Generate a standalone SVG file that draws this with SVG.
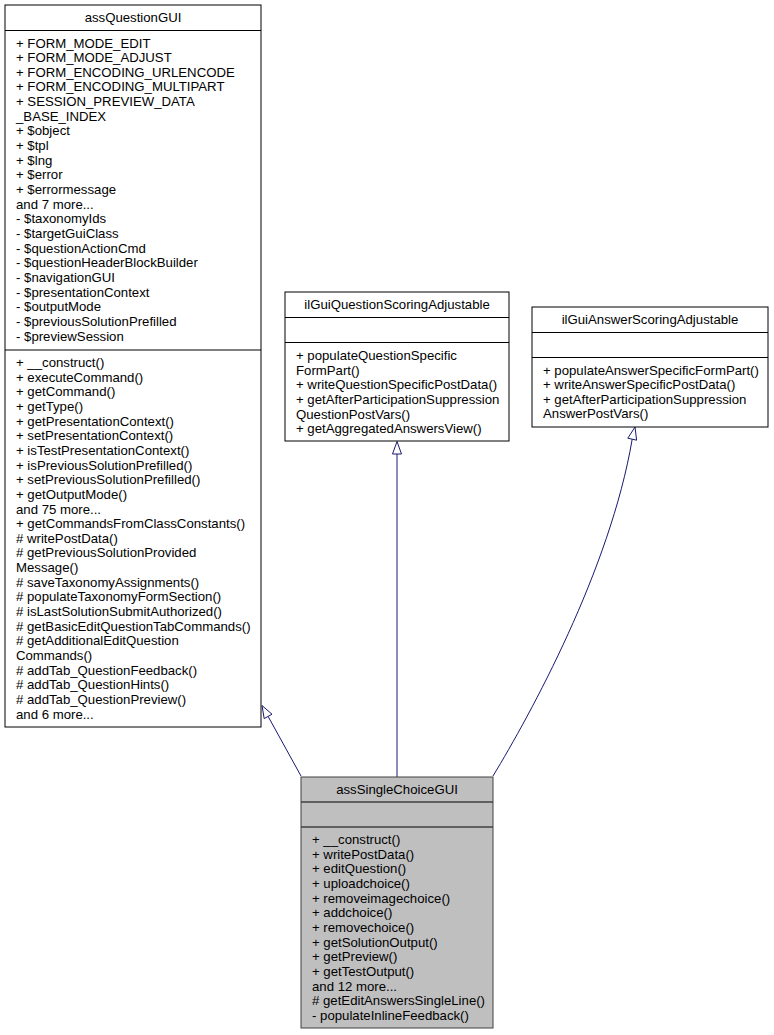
<svg xmlns="http://www.w3.org/2000/svg" width="774" height="1035" viewBox="0 0 774 1035">
<style>
text{font-family:"Liberation Sans",Arial,Helvetica,sans-serif;font-size:13.2px;fill:#000}
.t{text-anchor:middle}
.box{fill:#fff;stroke:#000;stroke-width:1}
.main{fill:#bfbfbf;stroke:#404040;stroke-width:1}
.sep{stroke:#000;stroke-width:1}
.msep{stroke:#404040;stroke-width:1.5}
.edge{fill:none;stroke:#191970;stroke-width:1}
.ah{fill:#fff;stroke:#191970;stroke-width:1}
</style>
<rect width="774" height="1035" fill="#fff"/>
<g id="connectors">
<path class="edge" d="M301,776 L268.1,716.4"/>
<polygon class="ah" points="262,705.5 272,714.2 264.2,718.6"/>
<path class="edge" d="M397,777 L397,454"/>
<polygon class="ah" points="397,441.5 401.5,454 392.5,454"/>
<path class="edge" d="M493,776 C530,715 610,570 632.2,439.2"/>
<polygon class="ah" points="635,427 636.6,440.2 627.8,438.2"/>
</g>
<g id="assQuestionGUI">
<rect class="box" x="5" y="5" width="256" height="722"/>
<line class="sep" x1="5" y1="30.5" x2="261" y2="30.5"/>
<line class="sep" x1="5" y1="350" x2="261" y2="350"/>
<text class="t" x="133" y="22.3">assQuestionGUI</text>
<text x="16" y="47.5">+ FORM_MODE_EDIT</text>
<text x="16" y="62.15">+ FORM_MODE_ADJUST</text>
<text x="16" y="76.8">+ FORM_ENCODING_URLENCODE</text>
<text x="16" y="91.45">+ FORM_ENCODING_MULTIPART</text>
<text x="16" y="106.1">+ SESSION_PREVIEW_DATA</text>
<text x="16" y="120.75">_BASE_INDEX</text>
<text x="16" y="135.4">+ $object</text>
<text x="16" y="150.05">+ $tpl</text>
<text x="16" y="164.7">+ $lng</text>
<text x="16" y="179.35">+ $error</text>
<text x="16" y="194">+ $errormessage</text>
<text x="16" y="208.65">and 7 more...</text>
<text x="16" y="223.3">- $taxonomyIds</text>
<text x="16" y="237.95">- $targetGuiClass</text>
<text x="16" y="252.6">- $questionActionCmd</text>
<text x="16" y="267.25">- $questionHeaderBlockBuilder</text>
<text x="16" y="281.9">- $navigationGUI</text>
<text x="16" y="296.55">- $presentationContext</text>
<text x="16" y="311.2">- $outputMode</text>
<text x="16" y="325.85">- $previousSolutionPrefilled</text>
<text x="16" y="340.5">- $previewSession</text>
<text x="16" y="367">+ __construct()</text>
<text x="16" y="381.65">+ executeCommand()</text>
<text x="16" y="396.3">+ getCommand()</text>
<text x="16" y="410.95">+ getType()</text>
<text x="16" y="425.6">+ getPresentationContext()</text>
<text x="16" y="440.25">+ setPresentationContext()</text>
<text x="16" y="454.9">+ isTestPresentationContext()</text>
<text x="16" y="469.55">+ isPreviousSolutionPrefilled()</text>
<text x="16" y="484.2">+ setPreviousSolutionPrefilled()</text>
<text x="16" y="498.85">+ getOutputMode()</text>
<text x="16" y="513.5">and 75 more...</text>
<text x="16" y="528.15">+ getCommandsFromClassConstants()</text>
<text x="16" y="542.8"># writePostData()</text>
<text x="16" y="557.45"># getPreviousSolutionProvided</text>
<text x="16" y="572.1">Message()</text>
<text x="16" y="586.75"># saveTaxonomyAssignments()</text>
<text x="16" y="601.4"># populateTaxonomyFormSection()</text>
<text x="16" y="616.05"># isLastSolutionSubmitAuthorized()</text>
<text x="16" y="630.7"># getBasicEditQuestionTabCommands()</text>
<text x="16" y="645.35"># getAdditionalEditQuestion</text>
<text x="16" y="660">Commands()</text>
<text x="16" y="674.65"># addTab_QuestionFeedback()</text>
<text x="16" y="689.3"># addTab_QuestionHints()</text>
<text x="16" y="703.95"># addTab_QuestionPreview()</text>
<text x="16" y="718.6">and 6 more...</text>
</g>
<g id="ilGuiQuestionScoringAdjustable">
<rect class="box" x="285" y="292" width="224" height="149"/>
<line class="sep" x1="285" y1="317.5" x2="509" y2="317.5"/>
<line class="sep" x1="285" y1="342.5" x2="509" y2="342.5"/>
<text class="t" x="397" y="309.3">ilGuiQuestionScoringAdjustable</text>
<text x="296" y="360">+ populateQuestionSpecific</text>
<text x="296" y="374.65">FormPart()</text>
<text x="296" y="389.3">+ writeQuestionSpecificPostData()</text>
<text x="296" y="403.95">+ getAfterParticipationSuppression</text>
<text x="296" y="418.6">QuestionPostVars()</text>
<text x="296" y="433.25">+ getAggregatedAnswersView()</text>
</g>
<g id="ilGuiAnswerScoringAdjustable">
<rect class="box" x="532" y="307" width="236" height="120"/>
<line class="sep" x1="532" y1="332.5" x2="768" y2="332.5"/>
<line class="sep" x1="532" y1="357.5" x2="768" y2="357.5"/>
<text class="t" x="650" y="324.3">ilGuiAnswerScoringAdjustable</text>
<text x="543" y="374.5">+ populateAnswerSpecificFormPart()</text>
<text x="543" y="389.15">+ writeAnswerSpecificPostData()</text>
<text x="543" y="403.8">+ getAfterParticipationSuppression</text>
<text x="543" y="418.45">AnswerPostVars()</text>
</g>
<g id="assSingleChoiceGUI">
<rect class="main" x="301" y="777" width="192" height="251"/>
<line class="msep" x1="301" y1="802" x2="493" y2="802"/>
<line class="msep" x1="301" y1="827" x2="493" y2="827"/>
<text class="t" x="397" y="794">assSingleChoiceGUI</text>
<text x="312" y="844">+ __construct()</text>
<text x="312" y="858.65">+ writePostData()</text>
<text x="312" y="873.3">+ editQuestion()</text>
<text x="312" y="887.95">+ uploadchoice()</text>
<text x="312" y="902.6">+ removeimagechoice()</text>
<text x="312" y="917.25">+ addchoice()</text>
<text x="312" y="931.9">+ removechoice()</text>
<text x="312" y="946.55">+ getSolutionOutput()</text>
<text x="312" y="961.2">+ getPreview()</text>
<text x="312" y="975.85">+ getTestOutput()</text>
<text x="312" y="990.5">and 12 more...</text>
<text x="312" y="1005.15"># getEditAnswersSingleLine()</text>
<text x="312" y="1019.8">- populateInlineFeedback()</text>
</g>
</svg>
